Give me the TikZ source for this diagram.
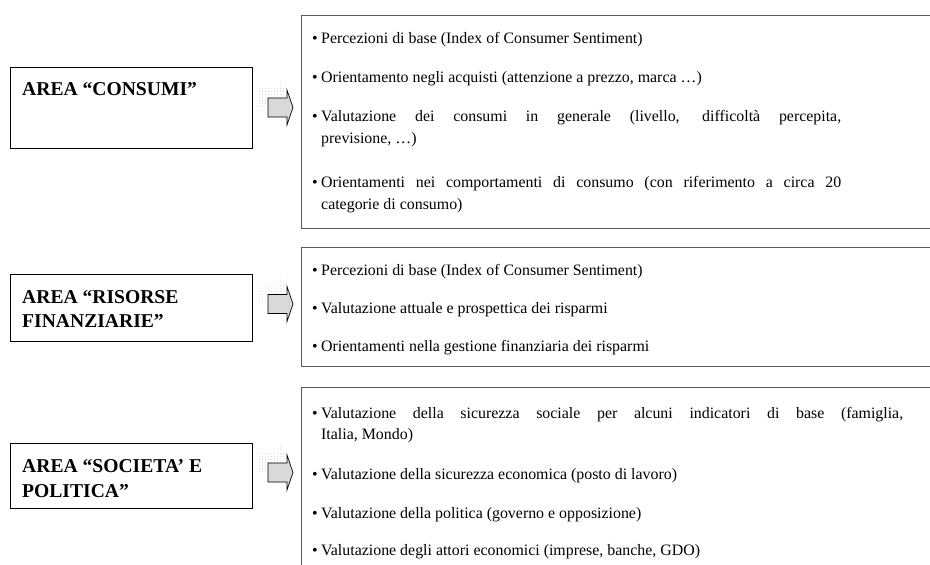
\documentclass[tikz,border=0pt]{standalone}
\usepackage{fontspec}
\setmainfont{Liberation Serif}
\begin{document}
\begin{tikzpicture}[x=1pt,y=-1pt,
  lbox/.style={draw=black, line width=0.8pt, rectangle, anchor=north west, inner sep=0pt, minimum width=242pt},
  rbox/.style={draw=black!65, line width=1.4pt, rectangle, anchor=north west, inner sep=0pt, minimum width=660pt},
  ltxt/.style={anchor=base west, inner sep=0pt, font=\fontsize{19.6}{24}\selectfont\bfseries},
  itm/.style={anchor=base west, inner sep=0pt, font=\fontsize{15.9}{22}\selectfont},
  bul/.style={anchor=base west, inner sep=0pt, font=\fontsize{15.9}{22}\selectfont},
  barrow/.pic={
    \foreach \i in {-21,-18,...,3}
      \foreach \j in {-19,-16,...,-1}
        \fill[gray!35] (\i,\j) circle[radius=0.5pt];
    \foreach \j in {-26,-23}
      \fill[gray!35] (0,\j) circle[radius=0.5pt];
    \filldraw[fill=gray!30, draw=black, line width=0.7pt, line join=miter]
      (-12.5,-9.5) -- (6.5,-9.5) -- (6.5,-17.5) -- (12.5,0) -- (6.5,17.5)
      -- (6.5,9.5) -- (-12.5,9.5) -- cycle;
  }]
\useasboundingbox (0,0) rectangle (930,565);
\clip (0,0) rectangle (930,565);

% left area boxes
\node[lbox, minimum height=81pt] (L1) at (10,67) {};
\node[lbox, minimum height=67pt] (L2) at (10,274) {};
\node[lbox, minimum height=65pt] (L3) at (10,443) {};
\node[ltxt] (L1a) at (22,95) {AREA “CONSUMI”};
\node[ltxt] (L2a) at (22,303) {AREA “RISORSE};
\node[ltxt] (L2b) at (22,327) {FINANZIARIE”};
\node[ltxt] (L3a) at (22,472) {AREA “SOCIETA’ E};
\node[ltxt] (L3b) at (22,497) {POLITICA”};

% block arrows
\pic (A1) at (280.5,107.5) {barrow};
\pic (A2) at (280.5,304) {barrow};
\pic (A3) at (280.5,472.5) {barrow};

% right boxes
\node[rbox, minimum height=213pt] (R1) at (301,15) {};
\node[rbox, minimum height=119pt] (R2) at (301,247) {};
\node[rbox, minimum height=220pt] (R3) at (301,387) {};

% box 1 items
\node[bul] (b11) at (312,43) {•};
\node[itm] (t11) at (321,43) {Percezioni di base (Index of Consumer Sentiment)};
\node[bul] (b12) at (312,82) {•};
\node[itm] (t12) at (321,82) {Orientamento negli acquisti (attenzione a prezzo, marca …)};
\node[bul] (b13) at (312,121) {•};
\node[itm] (t13) at (321,121) {\makebox[520pt][s]{Valutazione dei consumi in generale (livello, difficoltà percepita,}};
\node[itm] (t13b) at (321,143) {previsione, …)};
\node[bul] (b14) at (312,187) {•};
\node[itm] (t14) at (321,187) {\makebox[520pt][s]{Orientamenti nei comportamenti di consumo (con riferimento a circa 20}};
\node[itm] (t14b) at (321,209) {categorie di consumo)};

% box 2 items
\node[bul] (b21) at (312,275) {•};
\node[itm] (t21) at (321,275) {Percezioni di base (Index of Consumer Sentiment)};
\node[bul] (b22) at (312,313) {•};
\node[itm] (t22) at (321,313) {Valutazione attuale e prospettica dei risparmi};
\node[bul] (b23) at (312,351) {•};
\node[itm] (t23) at (321,351) {Orientamenti nella gestione finanziaria dei risparmi};

% box 3 items
\node[bul] (b31) at (312,418) {•};
\node[itm] (t31) at (321,418) {\makebox[582pt][s]{Valutazione della sicurezza sociale per alcuni indicatori di base (famiglia,}};
\node[itm] (t31b) at (321,439) {Italia, Mondo)};
\node[bul] (b32) at (312,479) {•};
\node[itm] (t32) at (321,479) {Valutazione della sicurezza economica (posto di lavoro)};
\node[bul] (b33) at (312,518) {•};
\node[itm] (t33) at (321,518) {Valutazione della politica (governo e opposizione)};
\node[bul] (b34) at (312,555) {•};
\node[itm] (t34) at (321,555) {Valutazione degli attori economici (imprese, banche, GDO)};
\end{tikzpicture}
\end{document}
